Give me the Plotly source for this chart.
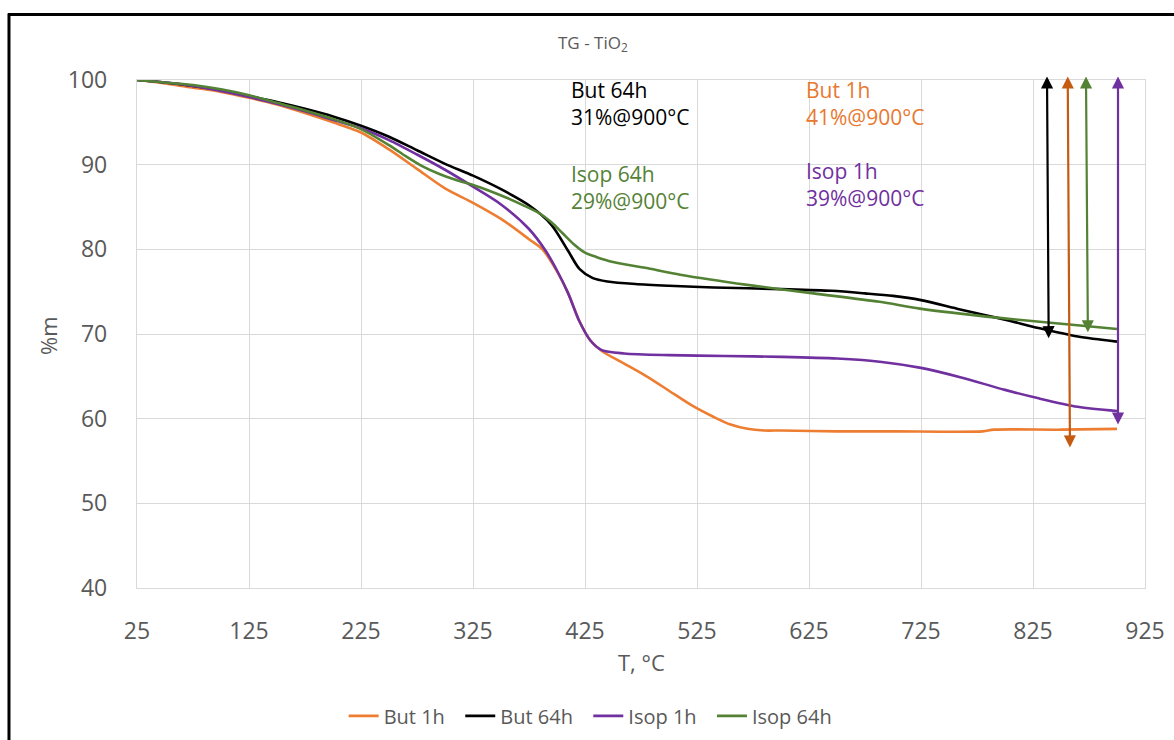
import plotly.graph_objects as go

# Thermogravimetric curves of TiO2 samples: mass (%) vs temperature (°C)
t_but1 = [25, 50, 75, 100, 125, 150, 175, 200, 225, 250, 275, 300, 325, 350, 375, 387, 400, 410,
          420, 430, 440, 460, 480, 500, 520, 540, 555, 570, 585, 600, 650, 700, 780, 790, 850, 900]
m_but1 = [100, 99.6, 99.1, 98.6, 97.9, 97.1, 96.1, 95.0, 93.8, 91.8, 89.5, 87.2, 85.5, 83.6, 81.2, 80.0, 77.4, 74.8,
          71.5, 69.2, 68.0, 66.5, 65.0, 63.3, 61.6, 60.2, 59.3, 58.8, 58.6, 58.6, 58.5, 58.5, 58.5, 58.7, 58.7, 58.8]

t_but64 = [25, 50, 75, 100, 125, 150, 175, 200, 225, 250, 275, 300, 325, 350, 375, 395, 410, 420,
           432, 445, 470, 500, 540, 600, 645, 675, 700, 725, 760, 800, 830, 865, 900]
m_but64 = [100, 99.7, 99.3, 98.8, 98.1, 97.4, 96.6, 95.7, 94.6, 93.3, 91.7, 90.1, 88.7, 87.1, 85.2, 82.9, 79.8, 77.7,
           76.6, 76.2, 75.9, 75.7, 75.5, 75.3, 75.1, 74.8, 74.5, 74.0, 72.9, 71.7, 70.7, 69.7, 69.1]

t_isop1 = [25, 50, 75, 100, 125, 150, 175, 200, 225, 250, 275, 300, 325, 350, 375, 390, 400, 410,
           420, 430, 440, 460, 500, 550, 600, 650, 690, 725, 760, 800, 830, 865, 900]
m_isop1 = [100, 99.7, 99.3, 98.7, 98.0, 97.2, 96.3, 95.3, 94.3, 92.9, 91.2, 89.4, 87.4, 85.3, 82.4, 79.8, 77.5, 74.8,
           71.5, 69.2, 68.1, 67.7, 67.5, 67.4, 67.3, 67.1, 66.7, 66.0, 64.9, 63.4, 62.4, 61.4, 60.9]

t_isop64 = [25, 50, 75, 100, 125, 150, 175, 200, 225, 250, 265, 280, 295, 310, 325, 340, 355, 370, 385, 395,
            405, 415, 425, 435, 450, 483, 510, 570, 629, 688, 724, 795, 867, 900]
m_isop64 = [100, 99.7, 99.4, 98.9, 98.2, 97.3, 96.4, 95.4, 94.2, 92.3, 91.0, 89.8, 88.9, 88.2, 87.6, 86.9, 86.1, 85.2, 84.2, 83.2,
            81.9, 80.6, 79.6, 79.1, 78.5, 77.7, 77.0, 75.8, 74.8, 73.8, 73.0, 71.9, 71.0, 70.6]

series_names = ["But 1h", "But 64h", "Isop 1h", "Isop 64h"]
line_colors = ["#ED7D31", "#000000", "#7030A0", "#548235"]

# Mass-loss arrows at the end of each run (top / bottom in %m)
arrow_t_top = [837.5, 856.0, 872.3, 900.9]
arrow_t_bottom = [839.0, 858.0, 874.0, 900.9]
arrow_m_top = [100.6, 100.6, 100.6, 100.6]
arrow_m_bottom = [69.5, 56.6, 70.2, 59.3]
arrow_colors = ["#000000", "#C55A11", "#548235", "#7030A0"]

# Loss labels
label_names = ["But 64h", "But 1h", "Isop 64h", "Isop 1h"]
label_loss = ["31%@900°C", "41%@900°C", "29%@900°C", "39%@900°C"]
label_t = [410.7, 620.5, 410.7, 620.5]
label_m = [100.0, 100.0, 90.1, 90.4]
label_colors = ["#000000", "#E8782F", "#548235", "#7030A0"]

FONT = "Open Sans"
GRAY = "#595959"
PAD = "\u00a0\u00a0"  # extra spacing after each legend entry

fig = go.Figure()
for t, m, name, col in zip([t_but1, t_but64, t_isop1, t_isop64],
                           [m_but1, m_but64, m_isop1, m_isop64],
                           series_names, line_colors):
    fig.add_trace(go.Scatter(x=t, y=m, mode="lines", name=name + PAD,
                             line=dict(color=col, width=2.6, shape="spline", smoothing=0.8)))

annotations = []
for tt, tb, mt, mb, col in zip(arrow_t_top, arrow_t_bottom, arrow_m_top, arrow_m_bottom, arrow_colors):
    annotations.append(dict(x=tb, y=mb, ax=tt, ay=mt, xref="x", yref="y", axref="x", ayref="y",
                            text="", showarrow=True, arrowhead=2, arrowside="end+start",
                            arrowsize=1.1, arrowwidth=2.2, arrowcolor=col))
for name, loss, tx, my, col in zip(label_names, label_loss, label_t, label_m, label_colors):
    annotations.append(dict(x=tx, y=my, xref="x", yref="y", xanchor="left", yanchor="top", yshift=6,
                            align="left", showarrow=False, text=f"{name}<br>{loss}",
                            font=dict(family=FONT, size=21, color=col)))

# Axis titles
annotations.append(dict(x=0.5, y=-0.1457, xref="paper", yref="paper", xanchor="center", yanchor="middle",
                        showarrow=False, text="T, °C", font=dict(family=FONT, size=22, color=GRAY)))
annotations.append(dict(x=-0.0883, y=0.498, xref="paper", yref="paper", xanchor="center", yanchor="middle",
                        showarrow=False, text="%m", textangle=-90, font=dict(family=FONT, size=22, color=GRAY)))

fig.update_layout(
    width=1174, height=740,
    margin=dict(l=137, r=29, t=80, b=152, autoexpand=False),
    paper_bgcolor="white", plot_bgcolor="white",
    font=dict(family=FONT, color=GRAY),
    title=dict(text="TG - TiO<sub>2</sub>", x=0.505, xanchor="center", y=0.942, yanchor="middle",
               font=dict(family=FONT, size=17, color=GRAY)),
    xaxis=dict(range=[25, 925], tick0=25, dtick=100, showgrid=True, gridcolor="#D9D9D9", gridwidth=1.3,
               zeroline=False, showline=True, linecolor="#D9D9D9", linewidth=1.3, mirror=True,
               automargin=False,
               ticks="", ticklabelstandoff=22, tickfont=dict(family=FONT, size=23, color=GRAY)),
    yaxis=dict(range=[40, 100], dtick=10, showgrid=True, gridcolor="#D9D9D9", gridwidth=1.3,
               zeroline=False, showline=True, linecolor="#D9D9D9", linewidth=1.3, mirror=True,
               automargin=False,
               ticks="", ticklabelstandoff=24, tickfont=dict(family=FONT, size=23, color=GRAY)),
    legend=dict(orientation="h", x=0.455, xanchor="center", yref="container", y=0.059, yanchor="top",
                font=dict(family=FONT, size=20, color=GRAY), itemwidth=30),
    showlegend=True,
    annotations=annotations,
    shapes=[
        dict(type="line", xref="paper", yref="paper", x0=-0.127, x1=-0.127, y0=1.131, y1=-0.30,
             line=dict(color="#000000", width=3)),
        dict(type="line", xref="paper", yref="paper", x0=-0.128, x1=1.03, y0=1.129, y1=1.129,
             line=dict(color="#000000", width=3)),
    ],
)

fig.write_html("out.html")
